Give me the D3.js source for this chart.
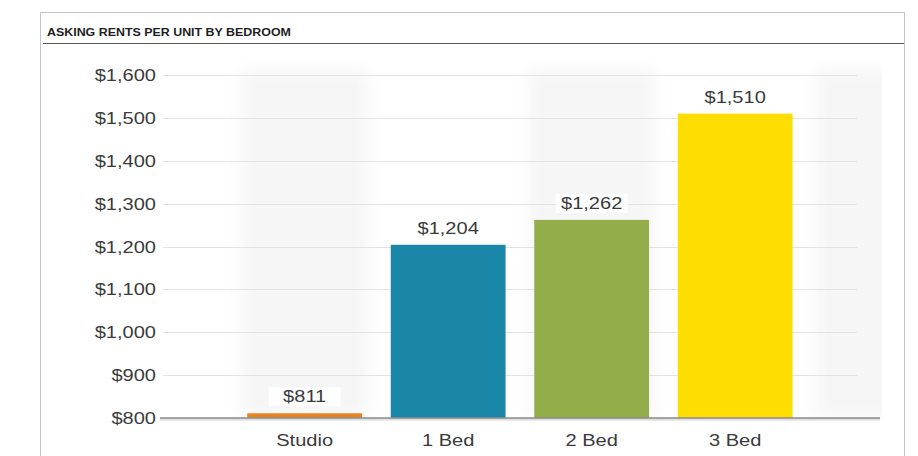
<!DOCTYPE html>
<html>
<head>
<meta charset="utf-8">
<script src="https://cdn.jsdelivr.net/npm/d3@7"></script>
<style>
  html, body { margin: 0; padding: 0; background: #fff; }
  svg { display: block; font-family: "Liberation Sans", Arial, sans-serif; }
</style>
</head>
<body>
<svg id="chart" width="918" height="456"></svg>
<script>
// Asking rents per unit, by bedroom count
const categories = ["Studio", "1 Bed", "2 Bed", "3 Bed"];
const rents = [811, 1204, 1262, 1510];
const barColors = ["#e8831f", "#1a86a8", "#94ad4b", "#fedd00"];
const yTicks = [800, 900, 1000, 1100, 1200, 1300, 1400, 1500, 1600];
const title = "ASKING RENTS PER UNIT BY BEDROOM";

const W = 918, H = 456;
const stretch = 1.18;          // horizontal text stretch used by the report's type
const textColor = "#3b3b3b";

const svg = d3.select("#chart");
const fmt = d3.format("$,");

// panel frame and header
svg.append("rect")
  .attr("x", 40.5).attr("y", 12.5)
  .attr("width", 864).attr("height", H)
  .attr("fill", "#fff").attr("stroke", "#c4c4c4");

svg.append("text")
  .attr("transform", "translate(47,36) scale(1.13,1)")
  .attr("font-size", 11).attr("font-weight", "bold")
  .attr("fill", "#1e1e1e")
  .text(title);

svg.append("line")
  .attr("x1", 43).attr("x2", 904)
  .attr("y1", 43.5).attr("y2", 43.5)
  .attr("stroke", "#5a5a5a").attr("stroke-width", 1.2);

// scales
const y = d3.scaleLinear().domain([800, 1600]).range([418, 75]);
const x = d3.scaleBand().domain(categories)
  .range([175.5, 864.3]).paddingInner(0.2).paddingOuter(0.5);

// soft alternating column shading
const defs = svg.append("defs");
defs.append("filter").attr("id", "soft")
  .attr("x", "-20%").attr("y", "-5%").attr("width", "140%").attr("height", "110%")
  .append("feGaussianBlur").attr("stdDeviation", 8);
defs.append("clipPath").attr("id", "plotClip")
  .append("rect").attr("x", 160).attr("y", 60).attr("width", 722).attr("height", 358);

const step = x.step();
const firstBandLeft = x(categories[0]) - step * x.paddingInner() / 2;
svg.append("g").attr("clip-path", "url(#plotClip)")
  .selectAll("rect").data([0, 2, 4]).join("rect")
  .attr("x", i => firstBandLeft + i * step + 8)
  .attr("y", 70)
  .attr("width", step - 16)
  .attr("height", 348)
  .attr("fill", "#f6f6f6")
  .attr("filter", "url(#soft)");

// gridlines
svg.append("g")
  .selectAll("line").data(yTicks.filter(t => t > 800)).join("line")
  .attr("x1", 163).attr("x2", 857)
  .attr("y1", d => Math.round(y(d)) + 0.5).attr("y2", d => Math.round(y(d)) + 0.5)
  .attr("stroke", "#e2e2e2").attr("stroke-width", 1);

// y tick labels
svg.append("g")
  .selectAll("text").data(yTicks).join("text")
  .attr("transform", d => `translate(156,${y(d) + 6}) scale(${stretch},1)`)
  .attr("text-anchor", "end")
  .attr("font-size", 17)
  .attr("fill", textColor)
  .text(d => fmt(d));

// bars
svg.append("g")
  .selectAll("rect").data(rents).join("rect")
  .attr("x", (d, i) => x(categories[i]))
  .attr("y", d => y(d))
  .attr("width", x.bandwidth())
  .attr("height", d => y(800) - y(d))
  .attr("fill", (d, i) => barColors[i]);

// baseline
svg.append("line")
  .attr("x1", 160).attr("x2", 880)
  .attr("y1", y(800) + 1.5).attr("y2", y(800) + 1.5)
  .attr("stroke", "#dcdcdc").attr("stroke-width", 2);
svg.append("line")
  .attr("x1", 160).attr("x2", 880)
  .attr("y1", y(800)).attr("y2", y(800))
  .attr("stroke", "#8a8a8a").attr("stroke-width", 1.5);

// value labels with a white backing
const labels = svg.append("g")
  .selectAll("g").data(rents).join("g")
  .attr("transform", (d, i) => `translate(${x(categories[i]) + x.bandwidth() / 2},${y(d) - 11})`);
labels.append("rect")
  .attr("x", -36).attr("y", -15).attr("width", 72).attr("height", 19)
  .attr("fill", "#fff")
  .attr("opacity", 0.9);
labels.append("text")
  .attr("transform", `scale(${stretch},1)`)
  .attr("text-anchor", "middle")
  .attr("font-size", 17)
  .attr("fill", textColor)
  .text(d => fmt(d));

// category labels
svg.append("g")
  .selectAll("text").data(categories).join("text")
  .attr("transform", d => `translate(${x(d) + x.bandwidth() / 2},446) scale(${stretch},1)`)
  .attr("text-anchor", "middle")
  .attr("font-size", 17)
  .attr("fill", textColor)
  .text(d => d);
</script>
</body>
</html>
